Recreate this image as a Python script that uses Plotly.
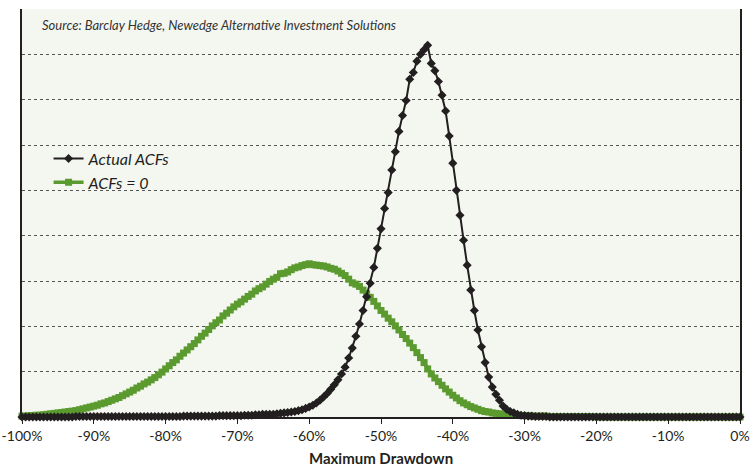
import plotly.graph_objects as go

# x positions: maximum drawdown in % (0.5% steps from -100 to 0)
x_pct = [-100 + 0.5 * i for i in range(201)]

actual_acfs = [
    0, 0, 0, 0, 0, 0, 0, 0, 0, 0,
    0, 0, 0, 0, 0, 0.01, 0.01, 0.01, 0.01, 0.01,
    0.01, 0.01, 0.01, 0.01, 0.01, 0.01, 0.01, 0.01, 0.01, 0.01,
    0.01, 0.01, 0.01, 0.01, 0.01, 0.01, 0.01, 0.01, 0.01, 0.01,
    0.01, 0.01, 0.01, 0.01, 0.01, 0.02, 0.02, 0.02, 0.02, 0.02,
    0.02, 0.02, 0.02, 0.02, 0.02, 0.03, 0.03, 0.03, 0.03, 0.03,
    0.03, 0.03, 0.04, 0.04, 0.04, 0.05, 0.05, 0.06, 0.06, 0.06,
    0.06, 0.07, 0.08, 0.09, 0.10, 0.11, 0.12, 0.14, 0.16, 0.19,
    0.22, 0.26, 0.31, 0.37, 0.44, 0.52, 0.61, 0.71, 0.82, 0.95,
    1.10, 1.30, 1.52, 1.78, 2.05, 2.35, 2.65, 2.95, 3.30, 3.72,
    4.15, 4.60, 4.95, 5.45, 5.85, 6.30, 6.65, 6.98, 7.45, 7.60,
    7.85, 8.00, 8.10, 8.20, 7.80, 7.64, 7.40, 7.10, 6.75, 6.20,
    5.60, 5.00, 4.45, 3.90, 3.35, 2.80, 2.35, 1.92, 1.55, 1.20,
    0.88, 0.66, 0.50, 0.37, 0.24, 0.17, 0.12, 0.09, 0.06, 0.04,
    0.03, 0.02, 0.02, 0.01, 0.01, 0.01, 0.01, 0, 0, 0,
    0, 0, 0, 0, 0, 0, 0, 0, 0, 0,
    0, 0, 0, 0, 0, 0, 0, 0, 0, 0,
    0, 0, 0, 0, 0, 0, 0, 0, 0, 0,
    0, 0, 0, 0, 0, 0, 0, 0, 0, 0,
    0, 0, 0, 0, 0, 0, 0, 0, 0, 0,
    0,
]

acfs_zero = [
    0.02, 0.02, 0.03, 0.03, 0.04, 0.04, 0.05, 0.06, 0.07, 0.08,
    0.09, 0.10, 0.11, 0.12, 0.13, 0.14, 0.16, 0.18, 0.20, 0.22,
    0.24, 0.26, 0.29, 0.31, 0.34, 0.37, 0.40, 0.43, 0.47, 0.51,
    0.55, 0.59, 0.64, 0.68, 0.73, 0.77, 0.82, 0.87, 0.93, 0.99,
    1.06, 1.13, 1.20, 1.26, 1.34, 1.41, 1.48, 1.55, 1.62, 1.70,
    1.78, 1.85, 1.93, 2.01, 2.08, 2.14, 2.23, 2.29, 2.36, 2.43,
    2.49, 2.54, 2.60, 2.66, 2.71, 2.78, 2.83, 2.87, 2.93, 2.99,
    3.04, 3.08, 3.16, 3.17, 3.20, 3.25, 3.29, 3.31, 3.34, 3.36,
    3.38, 3.36, 3.35, 3.34, 3.33, 3.31, 3.28, 3.26, 3.22, 3.17,
    3.12, 3.04, 2.96, 2.93, 2.88, 2.80, 2.72, 2.64, 2.55, 2.45,
    2.35, 2.27, 2.18, 2.10, 2.01, 1.92, 1.82, 1.73, 1.63, 1.53,
    1.42, 1.31, 1.20, 1.06, 0.95, 0.86, 0.78, 0.70, 0.62, 0.55,
    0.48, 0.42, 0.36, 0.31, 0.27, 0.23, 0.20, 0.17, 0.14, 0.12,
    0.11, 0.09, 0.08, 0.07, 0.06, 0.05, 0.05, 0.04, 0.04, 0.03,
    0.03, 0.03, 0.02, 0.02, 0.02, 0.02, 0.02, 0.01, 0.01, 0.01,
    0.01, 0.01, 0.01, 0.01, 0.01, 0.01, 0.01, 0.01, 0.01, 0.01,
    0, 0, 0, 0, 0, 0, 0, 0, 0, 0,
    0, 0, 0, 0, 0, 0, 0, 0, 0, 0,
    0, 0, 0, 0, 0, 0, 0, 0, 0, 0,
    0, 0, 0, 0, 0, 0, 0, 0, 0, 0,
    0,
]

tick_vals = [-100, -90, -80, -70, -60, -50, -40, -30, -20, -10, 0]
tick_text = ["-100%", "-90%", "-80%", "-70%", "-60%", "-50%", "-40%", "-30%", "-20%", "-10%", "0%"]

GREEN = "#5a9a2f"
BLACK = "#231f20"

fig = go.Figure()
fig.add_trace(go.Scatter(
    x=x_pct, y=acfs_zero, name="ACFs = 0", mode="lines+markers",
    line=dict(color=GREEN, width=3.5),
    marker=dict(symbol="square", size=7, color=GREEN),
    cliponaxis=False,
))
fig.add_trace(go.Scatter(
    x=x_pct, y=actual_acfs, name="Actual ACFs", mode="lines+markers",
    line=dict(color=BLACK, width=2),
    marker=dict(symbol="diamond", size=7, color=BLACK),
    cliponaxis=False,
))

fig.update_layout(
    width=750, height=468,
    margin=dict(l=22, r=10, t=9, b=51, autoexpand=False),
    paper_bgcolor="white",
    plot_bgcolor="#f4f7f0",
    font=dict(family="Lato, 'Open Sans', sans-serif", color=BLACK, size=14),
    showlegend=True,
    legend=dict(
        x=0.037, y=0.675, xanchor="left", yanchor="top",
        traceorder="reversed",
        bgcolor="rgba(0,0,0,0)",
        font=dict(size=16, style="italic", color=BLACK),
        itemwidth=30, tracegroupgap=0,
    ),
    xaxis=dict(
        range=[-100, 0],
        automargin=False,
        tickvals=tick_vals, ticktext=tick_text,
        ticklabeloverflow="allow",
        showgrid=False, zeroline=False,
        showline=True, linecolor=BLACK, linewidth=2,
        ticks="outside", ticklen=5, tickcolor=BLACK, tickwidth=1,
        tickfont=dict(size=14, color=BLACK),
        title=dict(text="<b>Maximum Drawdown</b>", font=dict(size=15, color=BLACK), standoff=11),
    ),
    yaxis=dict(
        range=[0, 9],
        automargin=False,
        dtick=1,
        showticklabels=False,
        showgrid=True, gridcolor="#555555", gridwidth=1, griddash="3px,3px",
        zeroline=False,
        showline=True, linecolor=BLACK, linewidth=1.5, mirror=True,
        ticks="",
    ),
    annotations=[dict(
        text="<i>Source: Barclay Hedge, Newedge Alternative Investment Solutions</i>",
        xref="paper", yref="paper", x=0.025, y=0.985, xanchor="left", yanchor="top",
        showarrow=False, font=dict(size=13, color="#333333"),
    )],
)

fig.write_html(
    "out.html",
    config={"displayModeBar": False},
    post_script="document.body.style.margin='0';document.body.style.overflow='hidden';",
)
